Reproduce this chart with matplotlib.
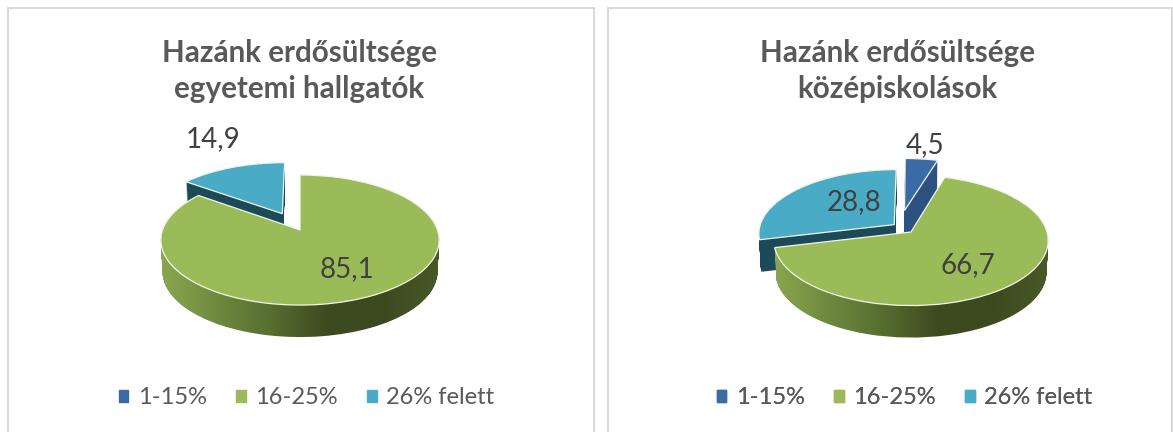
"""Two exploded pseudo-3D pies: forest cover answers from students."""
import matplotlib

matplotlib.use("Agg")

import matplotlib.pyplot as plt
import numpy as np
from matplotlib.colors import LinearSegmentedColormap
from matplotlib.patches import Patch, PathPatch, Rectangle
from matplotlib.path import Path
from matplotlib.transforms import Transform

plt.rcParams["font.family"] = ["Lato", "DejaVu Sans"]

CATEGORIES = ["1-15%", "16-25%", "26% felett"]
UNI_VALUES = [0.0, 85.1, 14.9]
HIGH_VALUES = [4.5, 66.7, 28.8]
UNI_TITLE = "Hazánk erdősültsége\negyetemi hallgatók"
HIGH_TITLE = "Hazánk erdősültsége\nközépiskolások"

TOP_COLORS = ["#3b6ba5", "#9bbb59", "#4aabc6"]
WALL_COLORS = ["#2c5282", None, "#1c4a59"]
GREEN_WALL = ["#8ca750", "#6f8a3e", "#566d30", "#3c4a20", "#3d4a20", "#485a27"]
TITLE_COLOR = "#595959"
LABEL_COLOR = "#404040"
LEGEND_COLOR = "#595959"
BORDER = "#d9d9d9"

WIDTH, HEIGHT = 1173, 432
DEPTH = 32


class PieProjection(Transform):
    """Perspective from the pie's unit disc to pixel coordinates."""

    input_dims = 2
    output_dims = 2
    is_affine = False
    has_inverse = False

    def __init__(self, cx, cy, rx, ry, tilt, drop=0.0, shrink=1.0):
        super().__init__()
        self.params = (cx, cy, rx, ry, tilt, drop, shrink)

    def transform_non_affine(self, values):
        cx, cy, rx, ry, tilt, drop, shrink = self.params
        values = np.asarray(values, dtype=float)
        w = 1 + tilt * values[:, 1]
        return np.column_stack(
            [cx + shrink * rx * values[:, 0] / w, cy + drop - ry * values[:, 1] / w]
        )


def wall_path(wedge, cx, cy, rx, ry, tilt):
    layers = []
    for drop in range(0, DEPTH + 1):
        proj = PieProjection(cx, cy, rx, ry, tilt, drop, 1 - 0.012 * drop / DEPTH)
        layers.append(proj.transform_path(wedge.get_path()))
    return Path.make_compound_path(*layers)


def draw_pie(ax, values, offsets, geom, title, title_x, label_xy, legend_x):
    cx, cy, rx, ry, tilt = geom
    wedges, _ = ax.pie(
        values,
        colors=TOP_COLORS,
        startangle=90,
        counterclock=False,
        wedgeprops={"edgecolor": "#f2f6ea", "linewidth": 0.9},
    )
    proj = PieProjection(*geom)
    # back slices first, the big green one sits on top of their walls
    for i, wedge in enumerate(wedges):
        if values[i] == 0:
            wedge.set_visible(False)
            continue
        wedge.set_center(offsets[i])
        wedge.set_transform(proj + ax.transData)
        wedge.set_zorder(4 if i == 1 else 2)
        path = wall_path(wedge, *geom)
        if i == 1:
            cmap = LinearSegmentedColormap.from_list("wall", GREEN_WALL)
            im = ax.imshow(
                np.linspace(0, 1, 256)[None, :],
                cmap=cmap,
                extent=(cx - rx - 3, cx + rx + 3, cy + 120, cy - 40),
                aspect="auto",
                zorder=3,
            )
            im.set_clip_path(path, ax.transData)
        else:
            ax.add_patch(PathPatch(path, fc=WALL_COLORS[i], ec="none", zorder=1))

    for i, xy in label_xy.items():
        ax.text(
            *xy,
            f"{values[i]:.1f}".replace(".", ","),
            ha="center",
            va="center",
            fontsize=20,
            color=LABEL_COLOR,
            zorder=6,
        )

    ax.text(
        title_x,
        71,
        title,
        ha="center",
        va="center",
        fontsize=21.3,
        fontweight="bold",
        color=TITLE_COLOR,
        linespacing=1.33,
        zorder=6,
    )

    handles = [Patch(color=c) for c in TOP_COLORS]
    legend = ax.legend(
        handles,
        CATEGORIES,
        ncol=3,
        loc="center",
        bbox_to_anchor=(legend_x, 398),
        bbox_transform=ax.transData,
        frameon=False,
        fontsize=17,
        labelcolor=LEGEND_COLOR,
        handlelength=0.4,
        handleheight=0.4,
        handletextpad=0.4,
        columnspacing=1.25,
        borderpad=0,
    )
    ax.add_artist(legend)


fig = plt.figure(figsize=(WIDTH / 100, HEIGHT / 100), dpi=100)
ax = fig.add_axes([0, 0, 1, 1])

for x0, x1 in [(8, 594), (608, 1172)]:
    ax.add_patch(
        Rectangle((x0, 8), x1 - x0, 440, fc="white", ec=BORDER, lw=1.4, zorder=0)
    )

draw_pie(
    ax,
    UNI_VALUES,
    [(0, 0), (0, 0), (-0.134, 0.268)],
    (300, 230, 137.5, 63.5, 0.154),
    UNI_TITLE,
    299,
    {1: (347, 269), 2: (213, 139)},
    306.5,
)
draw_pie(
    ax,
    HIGH_VALUES,
    [(-0.05, 0.35), (0, 0), (-0.125, 0.117)],
    (911, 232, 136, 64, 0.13),
    HIGH_TITLE,
    897,
    {0: (925, 145), 1: (968, 265), 2: (854, 202)},
    904.5,
)

ax.set_aspect("auto")
ax.set_xlim(0, WIDTH)
ax.set_ylim(HEIGHT, 0)
ax.set_axis_off()

fig.savefig("out.png", dpi=100)
